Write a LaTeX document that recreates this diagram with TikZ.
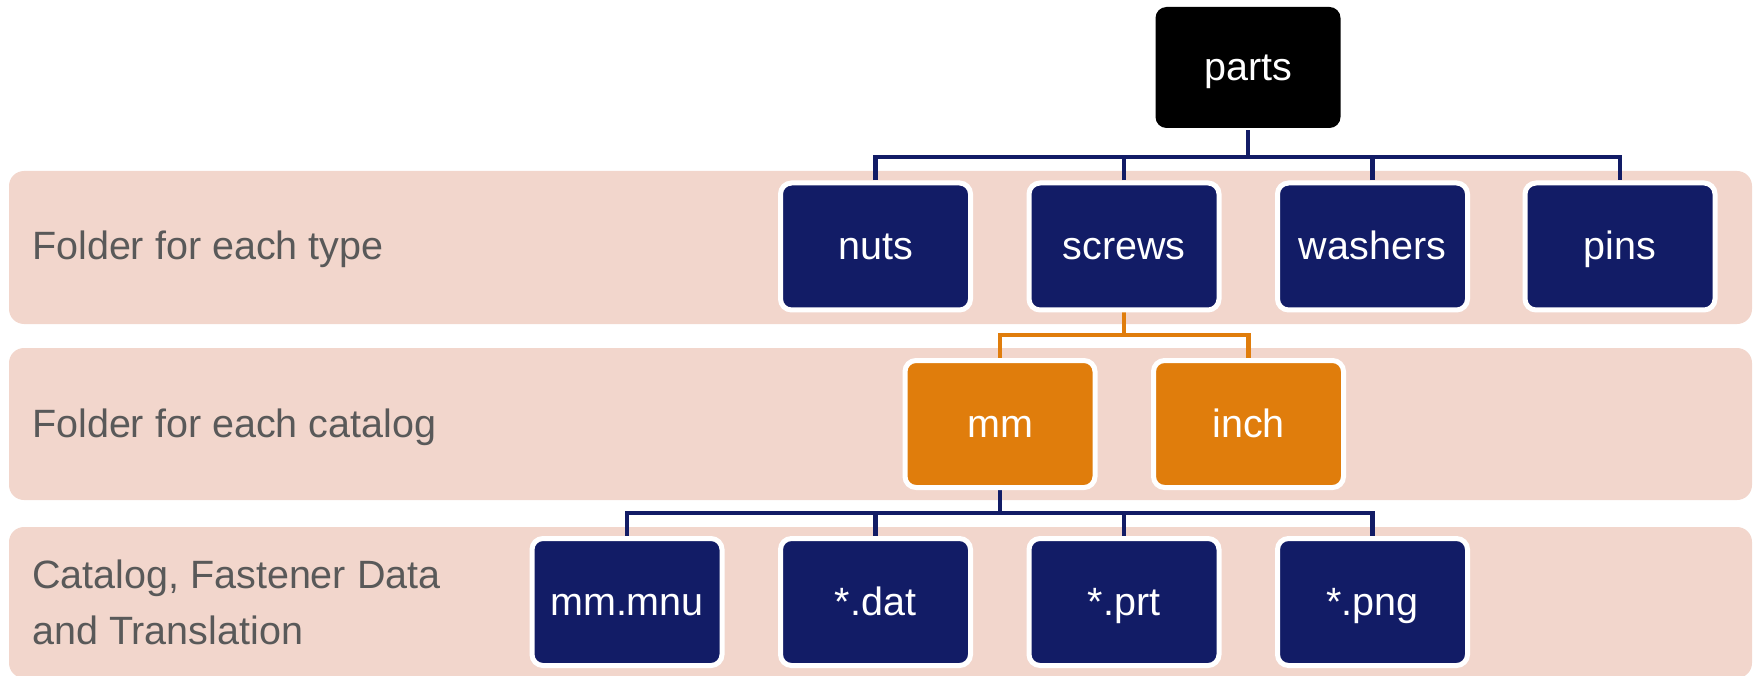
\documentclass[tikz,border=0pt]{standalone}
\usepackage{fontspec}
\setmainfont{Liberation Sans}
\definecolor{bandc}{RGB}{242,214,204}
\definecolor{navy}{RGB}{18,28,102}
\definecolor{orangec}{RGB}{224,125,12}
\definecolor{labelc}{RGB}{89,89,89}
\pgfdeclarelayer{bg}
\pgfdeclarelayer{conn}
\pgfsetlayers{bg,conn,main}
\tikzset{
  band/.style={fill=bandc, rounded corners=15pt},
  box/.style={rectangle, rounded corners=11pt, draw=white, line width=5pt,
    fill=navy, text=white, minimum width=190pt, minimum height=127pt,
    inner sep=0pt, text height=29pt, text depth=3pt,
    font=\fontsize{39.5}{47}\selectfont},
  obox/.style={box, fill=orangec},
  rootbox/.style={box, fill=black, draw=none, minimum width=185pt, minimum height=121pt},
  lbl/.style={anchor=base west, inner sep=0pt, text=labelc, align=left,
    font=\fontsize{39.5}{56}\selectfont},
  conn/.style={draw=navy, line width=4.5pt},
  oconn/.style={draw=orangec, line width=4.5pt},
}
\begin{document}
\begin{tikzpicture}[x=1pt,y=-1pt]
\useasboundingbox (0,0) rectangle (1756,676);
\begin{pgfonlayer}{bg}
  \fill[band] (9,171) rectangle (1752,324);
  \fill[band] (9,348) rectangle (1752,500);
  \fill[band] (9,527) rectangle (1752,678);
\end{pgfonlayer}
% labels
\node[lbl] (l1) at (32,260) {Folder for each type};
\node[lbl] (l2) at (32,437) {Folder for each catalog};
\node[lbl] (l3) at (32,644) {Catalog, Fastener Data\\and Translation};
% nodes
\node[rootbox] (parts) at (1248,67.5) {parts};
\node[box] (nuts) at (875.5,246.5) {nuts};
\node[box] (screws) at (1124,246.5) {screws};
\node[box] (washers) at (1372.5,246.5) {washers};
\node[box] (pins) at (1620,246.5) {pins};
\node[obox] (mm) at (1000,424) {mm};
\node[obox] (inch) at (1248.5,424) {inch};
\node[box] (mnu) at (627,602) {mm.mnu};
\node[box] (dat) at (875.5,602) {*.dat};
\node[box] (prt) at (1124,602) {*.prt};
\node[box] (png) at (1372.5,602) {*.png};
% connectors
\coordinate (b1) at (1248,157);
\coordinate (b2) at (1124,335);
\coordinate (b3) at (1000,513);
\begin{pgfonlayer}{conn}
  \draw[conn] (parts.south) -- (b1);
  \draw[conn] (nuts.north) |- (b1) -| (pins.north);
  \draw[conn] (screws.north) -- (screws.north |- b1);
  \draw[conn] (washers.north) -- (washers.north |- b1);
  \draw[oconn] (screws.south) -- (b2);
  \draw[oconn] (mm.north) |- (b2) -| (inch.north);
  \draw[conn] (mm.south) -- (b3);
  \draw[conn] (mnu.north) |- (b3) -| (png.north);
  \draw[conn] (dat.north) -- (dat.north |- b3);
  \draw[conn] (prt.north) -- (prt.north |- b3);
\end{pgfonlayer}
\end{tikzpicture}
\end{document}
